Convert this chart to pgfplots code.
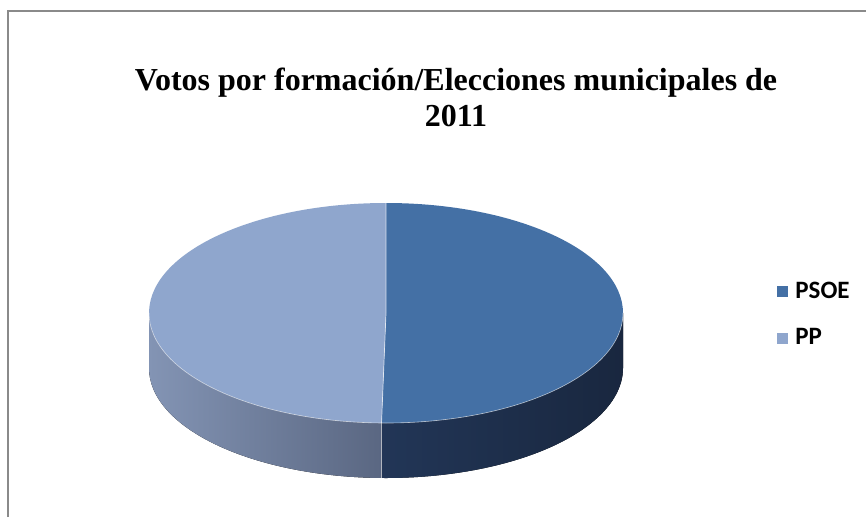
\documentclass[border=0pt]{standalone}
\usepackage{pgfplots}
\pgfplotsset{compat=1.18}
\usetikzlibrary{calc}
\usepackage{fontspec}
\setmainfont{Liberation Serif}
\newfontfamily\legfont{Carlito}
\definecolor{psoetop}{HTML}{4470A5}
\definecolor{pptop}{HTML}{8FA6CD}
\definecolor{psoesideA}{HTML}{223657}
\definecolor{psoesideB}{HTML}{19273F}
\definecolor{ppsideA}{HTML}{8394B4}
\definecolor{ppsideB}{HTML}{5A6782}
\definecolor{frame}{HTML}{8A8A8A}

% vote shares (%)
\pgfmathsetmacro{\vpsoe}{50.3}
\pgfmathsetmacro{\vpp}{49.7}

\begin{document}
\begin{tikzpicture}
\useasboundingbox[fill=white] (0,0) rectangle (866pt,517pt);
\draw[frame, line width=1.5pt] (8pt,0pt) -- (8pt,506pt) -- (866pt,506pt);

\node[font=\bfseries\fontsize{32}{36}\selectfont, anchor=base, inner sep=0pt] at (456pt,426pt) {Votos por formación/Elecciones municipales de};
\node[font=\bfseries\fontsize{32}{36}\selectfont, anchor=base, inner sep=0pt] at (456pt,390pt) {2011};

\begin{axis}[
  at={(0pt,0pt)}, anchor=south west,
  width=866pt, height=517pt, scale only axis,
  xmin=-1.6287, xmax=2.0253, ymin=-1.8545, ymax=2.8455,
  hide axis, clip=false,
  legend cell align=left,
  legend image code/.code={\fill[#1] (0pt,-6pt) rectangle (11pt,5pt);},
  legend style={at={(0.894,0.463)}, anchor=north west, draw=none, fill=none,
    font=\legfont\bfseries\fontsize{25}{28}\selectfont, row sep=25pt,
    /tikz/every odd column/.append style={column sep=5pt}},
]
\pgfmathsetmacro{\split}{90-3.6*\vpsoe}
\pgfmathsetmacro{\splitpp}{\split+360}
\coordinate (C) at (axis cs:0,0);
% side faces (front half only)
\fill[left color=psoesideA, right color=psoesideB]
  ($(C)+(\split:237pt and 110pt)$) arc[start angle=\split, end angle=0, x radius=237pt, y radius=110pt]
  -- ++(0pt,-55pt) arc[start angle=0, end angle=\split, x radius=237pt, y radius=110pt] -- cycle;
\fill[left color=ppsideA, right color=ppsideB]
  ($(C)+(180:237pt and 110pt)$) arc[start angle=180, end angle=\splitpp, x radius=237pt, y radius=110pt]
  -- ++(0pt,-55pt) arc[start angle=\splitpp, end angle=180, x radius=237pt, y radius=110pt] -- cycle;
\draw[white, opacity=0.6, line width=0.6pt]
  ($(C)+(\split:237pt and 110pt)$) -- ++(0pt,-55pt);
% top faces
\fill[psoetop] (C) -- ++(90:237pt and 110pt)
  arc[start angle=90, end angle=\split, x radius=237pt, y radius=110pt] -- cycle;
\fill[pptop] (C) -- ++(\split:237pt and 110pt)
  arc[start angle=\split, end angle=-270, x radius=237pt, y radius=110pt] -- cycle;
\draw[white, opacity=0.7, line width=0.7pt]
  ($(C)+(90:237pt and 110pt)$) -- (C) -- ++(\split:237pt and 110pt);
\draw[white, opacity=0.6, line width=0.6pt]
  ($(C)+(180:237pt and 110pt)$) arc[start angle=180, end angle=360, x radius=237pt, y radius=110pt];

\addlegendimage{fill=psoetop, draw=none}
\addlegendentry{PSOE}
\addlegendimage{fill=pptop, draw=none}
\addlegendentry{PP}
\end{axis}
\end{tikzpicture}
\end{document}
